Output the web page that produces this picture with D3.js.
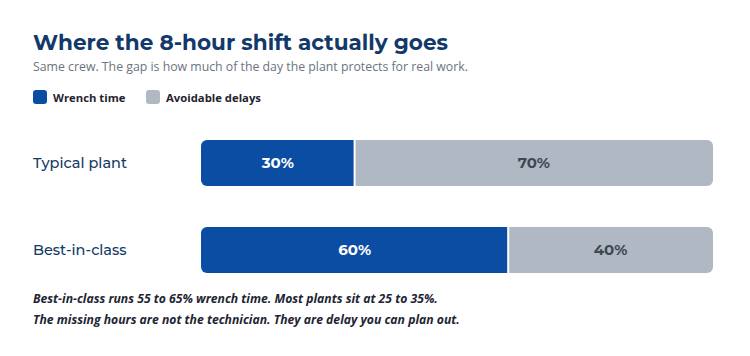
<!DOCTYPE html>
<html><head><meta charset="utf-8">
<script src="https://cdn.jsdelivr.net/npm/d3@7/dist/d3.min.js"></script>
<style>
html,body{margin:0;padding:0;background:#fff;}
svg{display:block;}
</style></head>
<body>
<svg id="c" width="750" height="356"></svg>
<script>
const categories = ["Typical plant", "Best-in-class"];
const seriesNames = ["Wrench time", "Avoidable delays"];
const wrench = [30, 60];
const delays = [70, 40];
const title = "Where the 8-hour shift actually goes";
const subtitle = "Same crew. The gap is how much of the day the plant protects for real work.";
const notes = ["Best-in-class runs 55 to 65% wrench time. Most plants sit at 25 to 35%.",
               "The missing hours are not the technician. They are delay you can plan out."];

const colors = ["#0b4da2", "#b0b9c3"];
const labelColors = ["#ffffff", "#3e4855"];
const svg = d3.select("#c");
const headFont = "Montserrat, 'DejaVu Sans', sans-serif";
const bodyFont = "'Open Sans', sans-serif";

svg.append("text").attr("x", 33).attr("y", 50)
  .attr("font-family", headFont).attr("font-weight", 700).attr("font-size", 21.5)
  .attr("fill", "#12396a").attr("textLength", 415).attr("lengthAdjust", "spacingAndGlyphs")
  .text(title);
svg.append("text").attr("x", 33).attr("y", 71)
  .attr("font-family", bodyFont).attr("font-size", 12.3).attr("fill", "#6b7380")
  .text(subtitle);

// legend
const legX = [33, 146];
seriesNames.forEach((n, i) => {
  svg.append("rect").attr("x", legX[i]).attr("y", 90).attr("width", 14).attr("height", 14)
    .attr("rx", 3).attr("fill", colors[i]);
  svg.append("text").attr("x", legX[i] + 20).attr("y", 101.5)
    .attr("font-family", bodyFont).attr("font-weight", 700).attr("font-size", 11.3)
    .attr("fill", "#1f2430").text(n);
});

const x = d3.scaleLinear().domain([0, 100]).range([201, 713]);
const bandH = 46;
const yPos = d3.scalePoint().domain(categories).range([140, 227]);

const data = categories.map((c, i) => ({cat: c, vals: [wrench[i], delays[i]]}));
const r = 6;
function roundedPath(x0, x1, y0, h, left, right) {
  const p = d3.path();
  const rl = left ? r : 0, rr = right ? r : 0;
  p.moveTo(x0 + rl, y0);
  p.lineTo(x1 - rr, y0);
  if (rr) p.arcTo(x1, y0, x1, y0 + rr, rr);
  p.lineTo(x1, y0 + h - rr);
  if (rr) p.arcTo(x1, y0 + h, x1 - rr, y0 + h, rr);
  p.lineTo(x0 + rl, y0 + h);
  if (rl) p.arcTo(x0, y0 + h, x0, y0 + h - rl, rl);
  p.lineTo(x0, y0 + rl);
  if (rl) p.arcTo(x0, y0, x0 + rl, y0, rl);
  p.closePath();
  return p.toString();
}

data.forEach(d => {
  const y0 = yPos(d.cat);
  svg.append("text").attr("x", 33).attr("y", y0 + bandH / 2)
    .attr("dy", "0.35em").attr("font-family", headFont).attr("font-weight", 500)
    .attr("font-size", 14.5).attr("fill", "#143a63").text(d.cat);
  let acc = 0;
  d.vals.forEach((v, j) => {
    const a = x(acc), b = x(acc + v);
    const gapL = j > 0 ? 1 : 0, gapR = j < d.vals.length - 1 ? 1 : 0;
    svg.append("path")
      .attr("d", roundedPath(a + gapL, b - gapR, y0, bandH, j === 0, j === d.vals.length - 1))
      .attr("fill", colors[j]);
    svg.append("text").attr("x", (a + b) / 2).attr("y", y0 + bandH / 2).attr("dy", "0.36em")
      .attr("text-anchor", "middle").attr("font-family", headFont).attr("font-weight", 700)
      .attr("font-size", 15).attr("fill", labelColors[j]).text(v + "%");
    acc += v;
  });
});

notes.forEach((t, i) => {
  svg.append("text").attr("x", 33).attr("y", 303 + i * 21)
    .attr("font-family", bodyFont).attr("font-style", "italic").attr("font-weight", 700)
    .attr("font-size", 12.2).attr("fill", "#1e2533").text(t);
});
</script>
</body></html>
